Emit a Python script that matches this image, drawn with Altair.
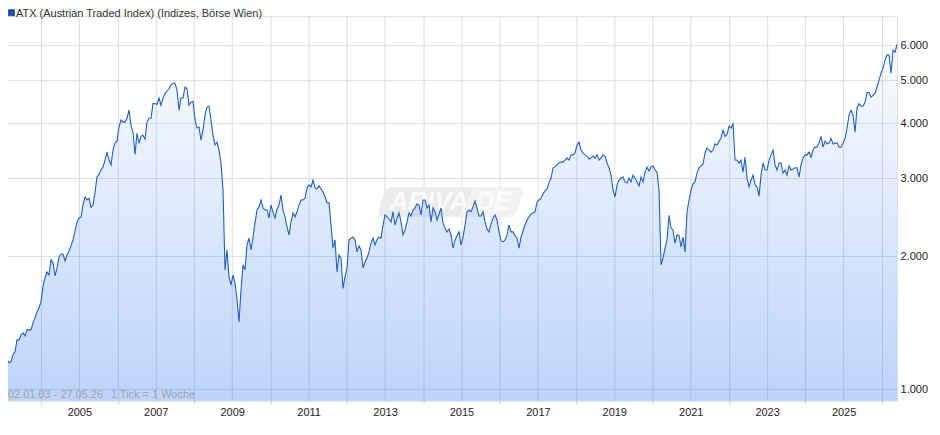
import pandas as pd
import altair as alt

# ATX index, evenly spaced from start to end date
start_date = "2003-01-02"
end_date = "2026-05-27"
atx = [
    1153, 1184, 1165, 1147, 1153, 1196, 1215, 1293, 1293, 1328, 1341, 1320, 1362, 1362, 1362, 1413, 1450, 1496, 1528, 1578,
    1710, 1787, 1841, 1813, 1962, 1932, 1805, 1880, 1990, 2022, 2022, 1950, 2012, 2055, 2110, 2177, 2280, 2390, 2440, 2450,
    2610, 2725, 2680, 2705, 2580, 2610, 2793, 3020, 3063, 3133, 3182, 3300, 3440, 3300, 3218, 3477, 3605, 3642, 3920, 4064,
    4022, 4022, 4105, 4281, 3950, 3815, 3400, 3795, 3605, 3735, 3755, 3680, 4022, 4105, 4105, 4430, 4430, 4410, 4560, 4390,
    4560, 4660, 4730, 4785, 4876, 4925, 4925, 4751, 4281, 4560, 4560, 4830, 4785, 4390, 4460, 4480, 4064, 3900, 3920, 3662,
    3858, 4170, 4350, 4370, 4064, 3755, 3570, 3625, 3477, 3250, 2823, 1862, 2066, 1795, 1720, 1813, 1740, 1593, 1420, 1678,
    1912, 1862, 2120, 2197, 2066, 2210, 2375, 2544, 2585, 2680, 2570, 2544, 2544, 2440, 2610, 2520, 2440, 2555, 2610, 2750,
    2544, 2455, 2330, 2235, 2390, 2505, 2455, 2520, 2610, 2680, 2680, 2705, 2855, 2900, 2870, 2974, 2855, 2840, 2885, 2840,
    2795, 2725, 2640, 2640, 2350, 2085, 2177, 1841, 2012, 1980, 1690, 1795, 1880, 2177, 2197, 2210, 2177, 2045, 2110, 2066,
    1880, 1940, 1980, 2045, 2140, 2197, 2120, 2177, 2210, 2197, 2350, 2480, 2455, 2430, 2390, 2520, 2350, 2440, 2505, 2390,
    2235, 2293, 2390, 2505, 2465, 2544, 2570, 2625, 2610, 2480, 2680, 2680, 2570, 2610, 2390, 2570, 2520, 2415, 2490, 2570,
    2375, 2315, 2270, 2305, 2235, 2085, 2177, 2225, 2270, 2120, 2210, 2350, 2520, 2544, 2520, 2585, 2665, 2570, 2465, 2465,
    2520, 2390, 2305, 2270, 2365, 2440, 2480, 2415, 2270, 2165, 2155, 2177, 2235, 2350, 2270, 2270, 2225, 2197, 2085, 2210,
    2280, 2350, 2415, 2455, 2490, 2505, 2520, 2650, 2680, 2705, 2765, 2810, 2840, 2930, 3005, 3170, 3185, 3218, 3250, 3265,
    3265, 3300, 3335, 3300, 3390, 3390, 3425, 3570, 3625, 3477, 3425, 3390, 3370, 3318, 3335, 3370, 3335, 3390, 3300, 3335,
    3390, 3370, 3250, 3170, 3050, 2823, 2725, 2900, 2974, 3005, 3020, 2945, 2930, 3005, 2945, 3050, 3005, 2945, 2885, 3020,
    2945, 3100, 3182, 3118, 3182, 3200, 3133, 3100, 2823, 1912, 1980, 2085, 2177, 2475, 2315, 2293, 2140, 2235, 2225, 2100,
    2210, 2045, 2520, 2680, 2823, 2915, 2945, 3085, 3170, 3200, 3235, 3425, 3515, 3477, 3440, 3477, 3590, 3570, 3642, 3695,
    3858, 3735, 3770, 3940, 3900, 3985, 3300, 3300, 3250, 3300, 3100, 3350, 3005, 2870, 2974, 3050, 2900, 2870, 2735, 3050,
    3250, 3133, 3133, 3300, 3390, 3477, 3218, 3133, 3250, 3250, 3085, 3133, 3050, 3200, 3133, 3150, 3170, 3170, 3020, 3218,
    3335, 3390, 3390, 3440, 3350, 3477, 3530, 3530, 3605, 3735, 3530, 3642, 3590, 3605, 3695, 3590, 3605, 3605, 3530, 3530,
    3605, 3695, 3900, 4170, 4281, 4170, 3815, 4330, 4430, 4370, 4370, 4460, 4690, 4690, 4580, 4625, 4670, 4830, 5005, 5190,
    5330, 5554, 5710, 5710, 5190, 5851, 5790, 6035,
]
y_ticks = [1000, 2000, 3000, 4000, 5000, 6000]
y_min = 941
y_max = 6985
title_text = "ATX (Austrian Traded Index) (Indizes, Börse Wien)"
range_text = "02.01.03 - 27.05.26"
tick_text = "1 Tick = 1 Woche"

df = pd.DataFrame({
    "date": pd.date_range(start_date, end_date, periods=len(atx)),
    "atx": atx,
})
df["base"] = y_min

x_scale = alt.Scale(domain=[start_date, end_date])
y_scale = alt.Scale(type="log", domain=[y_min, y_max], nice=False, zero=False)

x_axis = alt.Axis(
    title=None, domain=False, tickCount={"interval": "year", "step": 1},
    labelExpr="year(datum.value) % 2 ? timeFormat(datum.value, '%Y') : ''",
    labelOverlap=False, labelFlush=False, labelPadding=3, labelFontSize=11,
    labelColor="#222222", gridColor="#dddddd", tickColor="#cccccc", tickSize=3,
    tickOpacity={"condition": {"test": "year(datum.value) % 2 == 0", "value": 1}, "value": 0},
)
y_axis = alt.Axis(
    title=None, orient="right", values=y_ticks, domain=False, ticks=False,
    labelExpr="replace(format(datum.value, ','), ',', '.')",
    labelOverlap=False, labelPadding=3, labelFontSize=11,
    labelColor="#222222", gridColor="#dddddd",
)

fill = alt.Gradient(
    gradient="linear", x1=0, x2=0, y1=0, y2=1,
    stops=[
        alt.GradientStop(color="rgba(40,115,240,0.02)", offset=0),
        alt.GradientStop(color="rgba(40,115,240,0.31)", offset=1),
    ],
)

area = alt.Chart(df).mark_area(color=fill).encode(
    x=alt.X("date:T", scale=x_scale, axis=x_axis),
    y=alt.Y("atx:Q", scale=y_scale, axis=y_axis),
    y2="base:Q",
)
line = alt.Chart(df).mark_line(color="#2160bf", strokeWidth=1.1).encode(
    x=alt.X("date:T", scale=x_scale),
    y=alt.Y("atx:Q", scale=y_scale),
)

# Watermark behind the curve
one = pd.DataFrame({"a": [0]})
wm_left = alt.Chart(one).mark_point(
    shape="M-.46,.1 Q-.5,.1 -.49,.06 L-.45,-.06 Q-.43,-.1 -.39,-.1 L.16,-.1 L.06,.1 Z",
    filled=True, fill="#ebebeb", opacity=1, size=87000, strokeWidth=0,
).encode(x=alt.value(448), y=alt.value(186))
wm_right = alt.Chart(one).mark_point(
    shape="M.06,.1 L.16,-.1 L.46,-.1 Q.5,-.1 .49,-.06 L.45,.06 Q.43,.1 .39,.1 Z",
    filled=True, fill="#f2f2f2", opacity=1, size=87000, strokeWidth=0,
).encode(x=alt.value(448), y=alt.value(186))
wm_text = alt.Chart(pd.DataFrame({"t": ["ARIVA.DE"]})).mark_text(
    font="Liberation Sans", fontSize=26, fontStyle="italic", fontWeight="bold",
    color="#fbfbfb", align="center", baseline="middle",
).encode(x=alt.value(448), y=alt.value(186), text="t:N")

# Header and footer texts, squeezed into the gap above the frame
swatch = alt.Chart(one).mark_rect(color="#1a56b8", stroke="#10306a", strokeWidth=0.7).encode(
    x=alt.value(5.5), x2=alt.value(11.5), y=alt.value(-6.5), y2=alt.value(-0.5),
)
title = alt.Chart(pd.DataFrame({"t": [title_text]})).mark_text(
    font="Liberation Sans", fontSize=11, color="#333333", align="left", baseline="alphabetic",
).encode(x=alt.value(13), y=alt.value(0.5), text="t:N")
foot_a = alt.Chart(pd.DataFrame({"t": [range_text]})).mark_text(
    font="Liberation Sans", fontSize=11, color="#a3a3aa", align="left", baseline="middle",
).encode(x=alt.value(5), y=alt.value(379), text="t:N")
foot_b = alt.Chart(pd.DataFrame({"t": [tick_text]})).mark_text(
    font="Liberation Sans", fontSize=11, color="#a3a3aa", align="left", baseline="middle",
).encode(x=alt.value(108), y=alt.value(379), text="t:N")

chart = alt.layer(wm_left, wm_right, wm_text, area, line, swatch, title, foot_a, foot_b).properties(
    width=895,
    height=385,
    padding={"left": -5, "top": 8, "right": 35, "bottom": 20},
    autosize=alt.AutoSizeParams(type="none"),
).configure_view(
    stroke="#dddddd"
).configure_axis(
    labelFont="Liberation Sans"
)

chart.save("out.html", embed_options={"renderer": "svg", "actions": False})
